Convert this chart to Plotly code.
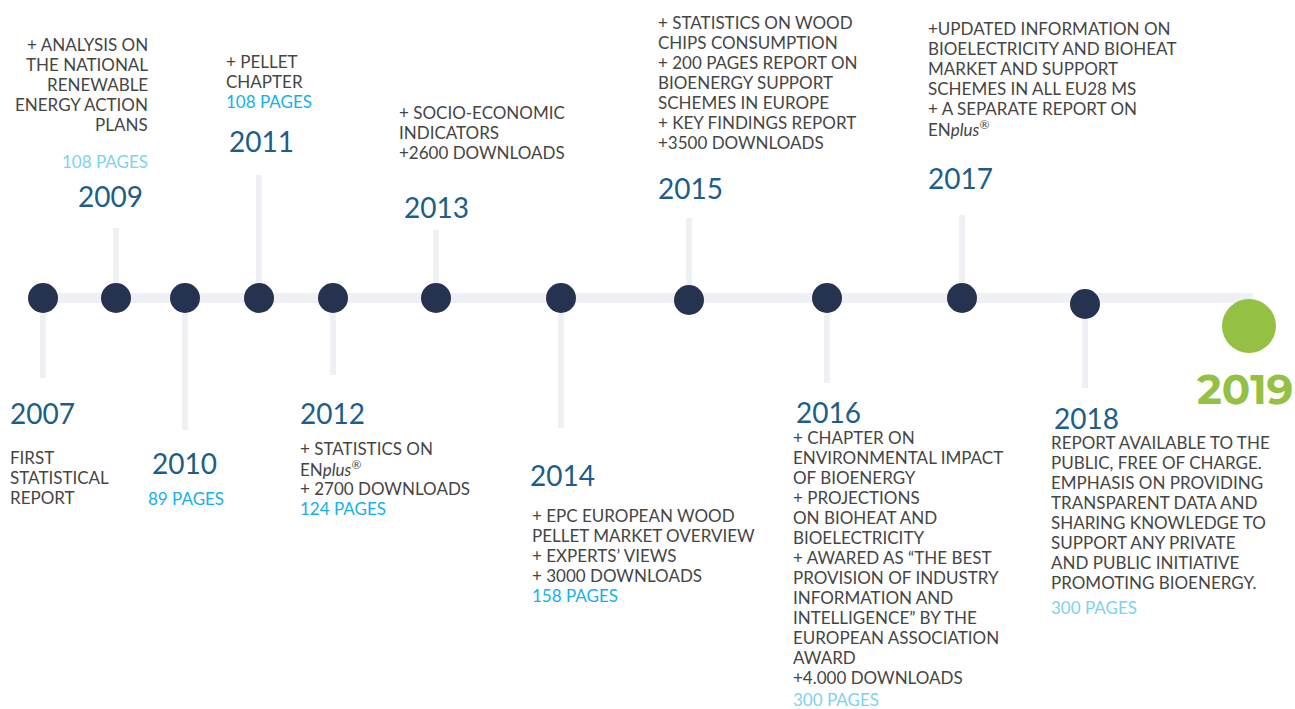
import plotly.graph_objects as go

# timeline data
years = [2007, 2009, 2010, 2011, 2012, 2013, 2014, 2015, 2016, 2017, 2018]
dot_x = [43, 116, 185, 259, 333, 436, 561, 689, 827, 962, 1085]
dot_y = [298, 298, 298, 298, 298, 298, 298, 300, 298, 298, 304]
stem_end = [378, 228, 430, 175, 375, 230, 428, 218, 383, 215, 388]
final_year = 2019
final_x = 1249
final_y = 326

notes = {
    2007: ["FIRST", "STATISTICAL", "REPORT"],
    2009: ["+ ANALYSIS ON", "THE NATIONAL", "RENEWABLE", "ENERGY ACTION", "PLANS"],
    2010: [],
    2011: ["+ PELLET", "CHAPTER"],
    2012: ["+ STATISTICS ON", "EN<i>plus</i><sup>®</sup>", "+ 2700 DOWNLOADS"],
    2013: ["+ SOCIO-ECONOMIC", "INDICATORS", "+2600 DOWNLOADS"],
    2014: ["+ EPC EUROPEAN WOOD", "PELLET MARKET OVERVIEW", "+ EXPERTS’ VIEWS",
           "+ 3000 DOWNLOADS"],
    2015: ["+ STATISTICS ON WOOD", "CHIPS CONSUMPTION", "+ 200 PAGES REPORT ON",
           "BIOENERGY SUPPORT", "SCHEMES IN EUROPE", "+ KEY FINDINGS REPORT",
           "+3500 DOWNLOADS"],
    2016: ["+ CHAPTER ON", "ENVIRONMENTAL IMPACT", "OF BIOENERGY", "+ PROJECTIONS",
           "ON BIOHEAT AND", "BIOELECTRICITY", "+ AWARED AS “THE BEST",
           "PROVISION OF INDUSTRY", "INFORMATION AND", "INTELLIGENCE” BY THE",
           "EUROPEAN ASSOCIATION", "AWARD", "+4.000 DOWNLOADS"],
    2017: ["+UPDATED INFORMATION ON", "BIOELECTRICITY AND BIOHEAT",
           "MARKET AND SUPPORT", "SCHEMES IN ALL EU28 MS", "+ A SEPARATE REPORT ON",
           "EN<i>plus</i><sup>®</sup>"],
    2018: ["REPORT AVAILABLE TO THE", "PUBLIC, FREE OF CHARGE.", "EMPHASIS ON PROVIDING",
           "TRANSPARENT DATA AND", "SHARING KNOWLEDGE TO", "SUPPORT ANY PRIVATE",
           "AND PUBLIC INITIATIVE", "PROMOTING BIOENERGY."],
}
pages = {2007: None, 2009: 108, 2010: 89, 2011: 108, 2012: 124, 2013: None,
         2014: 158, 2015: None, 2016: 300, 2017: None, 2018: 300}

# layout of each block: (x, align, year_y, notes_y, pages_y, year_x, pages_light)
blocks = {
    2007: (10, "left", 413, 457, None, 10, False),
    2009: (148, "right", 196, 44, 161, 143, True),
    2010: (148, "left", 463, None, 498, 152, False),
    2011: (226, "left", 141, 61, 101, 229, False),
    2012: (300, "left", 413, 448, 508, 300, False),
    2013: (399, "left", 207, 112, None, 404, False),
    2014: (532, "left", 475, 515, 595, 530, False),
    2015: (658, "left", 188, 22, None, 658, False),
    2016: (793, "left", 412, 437, 699, 796, True),
    2017: (928, "left", 178, 28, None, 928, False),
    2018: (1051, "left", 418, 442, 607, 1054, True),
}

FONT = "Lato"
TEXT_COL = "#454545"
YEAR_COL = "#1c5d8a"
PAGE_COL = "#14b0ea"
PAGE_LIGHT = "#7cd2f1"
TRACK = "#eef0f3"
DOT = "#263350"
GREEN = "#94c043"

fig = go.Figure()

# horizontal track
fig.add_trace(go.Scatter(x=[dot_x[0], 1253], y=[298, 298], mode="lines",
                         line=dict(color=TRACK, width=10), hoverinfo="skip"))
# stems
for xx, yy, ye in zip(dot_x, dot_y, stem_end):
    fig.add_trace(go.Scatter(x=[xx, xx], y=[yy, ye], mode="lines",
                             line=dict(color=TRACK, width=6), hoverinfo="skip"))
# dots
fig.add_trace(go.Scatter(x=dot_x, y=dot_y, mode="markers", text=years,
                         marker=dict(size=30, color=DOT, line=dict(width=0))))
fig.add_trace(go.Scatter(x=[final_x], y=[final_y], mode="markers",
                         marker=dict(size=54, color=GREEN, line=dict(width=0))))


def label(x, y, text, align, size, color, **kw):
    # plotly pads annotation text by a couple of pixels, pull it back
    return dict(x=x, y=y, text=text, xanchor=align, yanchor="middle", showarrow=False,
                xshift=-2 if align == "left" else 2,
                font=dict(family=kw.get("family", FONT), size=size, color=color,
                          weight=kw.get("weight", "normal")))


ann = []
for yr in years:
    bx, align, year_y, notes_y, pages_y, year_x, light = blocks[yr]
    ann.append(label(year_x, year_y, str(yr), align, 28, YEAR_COL))
    for i, line in enumerate(notes[yr]):
        ann.append(label(bx, notes_y + 20 * i, line, align, 17, TEXT_COL))
    if pages[yr]:
        ann.append(label(bx, pages_y, f"{pages[yr]} PAGES", align, 17,
                         PAGE_LIGHT if light else PAGE_COL))
ann.append(label(1293, 389, f"<b>{final_year}</b>", "right", 42, GREEN,
                 family="Montserrat, Lato", weight=900))

fig.update_layout(
    width=1295, height=709,
    margin=dict(l=0, r=0, t=0, b=0),
    paper_bgcolor="white", plot_bgcolor="white",
    showlegend=False,
    xaxis=dict(range=[0, 1295], visible=False, fixedrange=True),
    yaxis=dict(range=[709, 0], visible=False, fixedrange=True),
    annotations=ann,
)

fig.write_html("out.html", config={"displayModeBar": False},
               post_script="document.body.style.margin='0';")
